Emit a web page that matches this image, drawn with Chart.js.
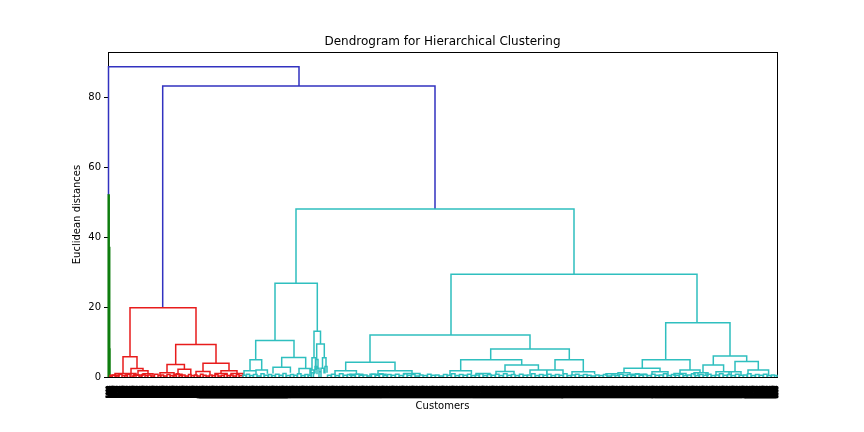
<!DOCTYPE html>
<html>
<head>
<meta charset="utf-8">
<title>Dendrogram for Hierarchical Clustering</title>
<script src="https://cdn.jsdelivr.net/npm/chart.js@4.4.1/dist/chart.umd.min.js"></script>
<style>
  html, body { margin: 0; padding: 0; background: #fff; }
  #wrap { width: 864px; height: 432px; }
</style>
</head>
<body>
<div id="wrap"><canvas id="chart" width="864" height="432"></canvas></div>
<script>
// each link: [left leg x, right leg x, left child height, right child height, merge height]
// x runs along the leaf order (108 = first leaf, 777 = last leaf)
const blueLinks = [
    [108.5, 299, 52, 83.2, 88.7],
    [162.7, 435, 19.8, 48, 83.2]
];

const greenLinks = [
    [108.2, 109.2, 0, 37, 52],
    [108.7, 109.7, 22, 8, 37],
    [108.4, 109.0, 0, 0, 22],
    [109.4, 110.0, 0, 0, 8]
];

const redLinks = [
    [130, 196, 5.8, 9.3, 19.8],
    [123, 137, 1.0, 2.4, 5.8],
    [131, 143, 1.0, 1.8, 2.4],
    [138, 148, 0.6, 0.9, 1.8],
    [175.7, 216, 3.6, 3.9, 9.3],
    [167, 184.4, 1.2, 2.2, 3.6],
    [203, 229, 1.6, 1.8, 3.9],
    [221, 237, 1.0, 1.0, 1.8],
    [115, 131, 0.5, 0.6, 1.0],
    [111, 119, 0, 0.3, 0.5],
    [126, 136, 0.3, 0.4, 1.0],
    [134, 142, 0, 0.3, 0.6],
    [143, 153, 0.3, 0.4, 0.9],
    [160, 174, 0.5, 0.6, 1.2],
    [178, 190.8, 0.8, 0.6, 2.2],
    [174, 182, 0, 0.3, 0.8],
    [196, 210, 0.5, 0.7, 1.6],
    [215, 227, 0.4, 0.5, 1.0],
    [231, 243, 0.4, 0.5, 1.0]
];

const cyanLinks = [
    [296, 574, 26.8, 29.4, 48],
    [275, 317.3, 10.4, 13.1, 26.8],
    [255.7, 294, 4.9, 5.6, 10.4],
    [250, 261.7, 1.8, 2.0, 4.9],
    [281.7, 305.7, 2.8, 2.4, 5.6],
    [314, 320.5, 5.5, 9.4, 13.1],
    [316.7, 324.3, 5.0, 5.5, 9.4],
    [312, 316, 2.0, 3.0, 5.5],
    [315.5, 318, 2.0, 2.5, 5.0],
    [322.5, 326, 2.5, 3.0, 5.5],
    [451, 697, 12, 15.5, 29.4],
    [370, 530, 4.2, 8.0, 12],
    [345.7, 395, 1.8, 1.8, 4.2],
    [490.7, 569.3, 4.9, 4.9, 8.0],
    [460.7, 521.7, 1.8, 3.4, 4.9],
    [505, 538.4, 1.6, 2.0, 3.4],
    [555, 583.3, 2.0, 1.5, 4.9],
    [665.7, 730, 4.9, 6.0, 15.5],
    [642.3, 690, 2.5, 2.0, 4.9],
    [624, 660, 1.2, 1.5, 2.5],
    [680, 700, 1.0, 1.2, 2.0],
    [713.3, 746.7, 3.4, 4.4, 6.0],
    [703, 723.6, 1.2, 1.5, 3.4],
    [735, 758.3, 1.5, 2.0, 4.4],
    [244, 256, 0.6, 0.8, 1.8],
    [256, 267.4, 0.6, 0.9, 2.0],
    [273, 290.4, 1.0, 1.2, 2.8],
    [299, 311, 0.8, 1.0, 2.4],
    [310, 314, 0.5, 0.8, 2.0],
    [315, 317, 1.0, 1.5, 3.0],
    [317, 319, 0.8, 1.0, 2.5],
    [321, 324, 0.8, 1.0, 2.5],
    [325, 327, 1.0, 1.2, 3.0],
    [319, 321, 0, 0, 1.5],
    [335, 356.4, 0.6, 0.8, 1.8],
    [378, 412, 0.8, 1.0, 1.8],
    [350, 362.8, 0.3, 0.4, 0.8],
    [370, 386, 0.4, 0.5, 0.8],
    [404, 420, 0.5, 0.6, 1.0],
    [450, 471.4, 0.6, 0.8, 1.8],
    [476, 490, 0.4, 0.5, 1.0],
    [496, 514, 0.6, 0.8, 1.6],
    [530, 546.8, 0.8, 0.6, 2.0],
    [547, 563, 0.7, 0.8, 2.0],
    [572, 594.6, 0.6, 0.8, 1.5],
    [606, 618, 0.3, 0.4, 0.9],
    [618, 630, 0.4, 0.5, 1.2],
    [632, 646, 0.3, 0.4, 0.8],
    [652, 668, 0.6, 0.5, 1.5],
    [674, 686, 0.3, 0.4, 1.0],
    [694, 706, 0.4, 0.3, 1.2],
    [698, 708, 0.4, 0.3, 1.2],
    [716, 731.2, 0.5, 0.6, 1.5],
    [729, 741, 0.5, 0.4, 1.5],
    [748, 768.6, 0.8, 0.6, 2.0]
];

// lowest merges straight above the leaves: [left leg x, right leg x, merge height]
const redTiny = [
    [110, 112, 0.4], [112.5, 115, 0.6], [116, 118.5, 0.3], [119, 122, 0.7], [122, 124.5, 0.4],
    [125, 127, 0.5], [127.5, 130, 0.8], [130.5, 133, 0.3], [133.5, 136, 0.6], [136, 139, 0.5],
    [139.5, 141.5, 0.3], [142, 145, 0.7], [145, 147.5, 0.4], [148, 151, 0.6], [151.5, 154, 0.3],
    [154.5, 158, 0.8], [158, 160.5, 0.4], [161, 163.5, 0.6], [164, 166.5, 0.3], [167, 170, 0.7],
    [170.5, 173, 0.4], [173.5, 176, 0.5], [176.5, 179, 0.9], [179.5, 182, 0.4], [182.5, 185, 0.6],
    [185.5, 188, 0.3], [188.5, 191, 0.7], [191.5, 194, 0.4], [194.5, 197, 0.6], [197.5, 200, 0.3],
    [200.5, 203, 0.8], [203.5, 206, 0.5], [206.5, 209, 0.3], [209.5, 212, 0.6], [212.5, 215, 0.4],
    [215.5, 218, 0.7], [218.5, 221, 0.3], [221.5, 224, 0.5], [224.5, 227, 0.8], [227.5, 230, 0.4],
    [230.5, 233, 0.6], [233.5, 236, 0.3], [236.5, 239, 0.7], [239.5, 242.5, 0.4]
];

const cyanTiny = [
    [243, 246, 0.5], [246.5, 249.5, 0.8], [250, 253, 0.4], [253.5, 257, 0.7], [257.5, 260.5, 0.3],
    [261, 264, 0.9], [264.5, 268, 0.5], [268.5, 271.5, 0.7], [272, 275, 0.4], [275.5, 279, 0.8],
    [279.5, 282.5, 0.5], [283, 286, 1.0], [286.5, 290, 0.4], [290.5, 293.5, 0.7], [294, 297, 0.5],
    [297.5, 301, 0.9], [301.5, 304.5, 0.4], [305, 308, 0.7], [308.5, 311, 0.5], [311.5, 313.5, 1.2],
    [327.5, 331, 0.5], [331.5, 335, 0.8], [335.5, 339, 0.4], [339.5, 343, 0.9], [343.5, 347, 0.5],
    [347.5, 351, 0.7], [351.5, 355, 0.4], [355.5, 359, 0.8], [359.5, 363, 0.5], [363.5, 367, 0.6],
    [367.5, 371, 0.3], [371.5, 375, 0.8], [375.5, 379, 0.5], [379.5, 383, 0.9], [383.5, 387, 0.4],
    [387.5, 391, 0.7], [391.5, 395, 0.5], [395.5, 399, 0.8], [399.5, 403, 0.4], [403.5, 407, 0.9],
    [407.5, 411, 0.5], [411.5, 415, 0.7], [415.5, 419, 0.3], [419.5, 423, 0.6], [423.5, 427, 0.4],
    [427.5, 431, 0.8], [431.5, 435, 0.5], [435.5, 439, 0.6], [439.5, 443, 0.3], [443.5, 447, 0.7],
    [447.5, 451, 0.5], [451.5, 455, 0.9], [455.5, 459, 0.4], [459.5, 463, 0.7], [463.5, 467, 0.5],
    [467.5, 471, 0.8], [471.5, 475, 0.4], [475.5, 479, 0.6], [479.5, 483, 0.9], [483.5, 487, 0.4],
    [487.5, 491, 0.7], [491.5, 495, 0.5], [495.5, 499, 0.8], [499.5, 503, 0.4], [503.5, 507, 0.9],
    [507.5, 511, 0.5], [511.5, 515, 0.7], [515.5, 519, 0.4], [519.5, 523, 0.8], [523.5, 527, 0.5],
    [527.5, 531, 0.6], [531.5, 535, 0.9], [535.5, 539, 0.4], [539.5, 543, 0.7], [543.5, 547, 0.5],
    [547.5, 551, 0.8], [551.5, 555, 0.4], [555.5, 559, 0.7], [559.5, 563, 0.5], [563.5, 567, 0.9],
    [567.5, 571, 0.4], [571.5, 575, 0.6], [575.5, 579, 0.8], [579.5, 583, 0.4], [583.5, 587, 0.7],
    [587.5, 591, 0.5], [591.5, 595, 0.3], [595.5, 599, 0.6], [599.5, 603, 0.4], [603.5, 607, 0.7],
    [607.5, 611, 0.3], [611.5, 615, 0.6], [615.5, 619, 0.4], [619.5, 623, 0.8], [623.5, 627, 0.5],
    [627.5, 631, 0.7], [631.5, 635, 0.4], [635.5, 639, 0.9], [639.5, 643, 0.5], [643.5, 647, 0.7],
    [647.5, 651, 0.4], [651.5, 655, 0.8], [655.5, 659, 0.5], [659.5, 663, 0.6], [663.5, 667, 0.9],
    [667.5, 671, 0.4], [671.5, 675, 0.7], [675.5, 679, 0.5], [679.5, 683, 0.8], [683.5, 687, 0.4],
    [687.5, 691, 0.6], [691.5, 695, 0.9], [695.5, 699, 0.4], [699.5, 703, 0.7], [703.5, 707, 0.5],
    [707.5, 711, 0.8], [711.5, 715, 0.4], [715.5, 719, 0.6], [719.5, 723, 0.9], [723.5, 727, 0.5],
    [727.5, 731, 0.7], [731.5, 735, 0.4], [735.5, 739, 0.8], [739.5, 743, 0.5], [743.5, 747, 0.6],
    [747.5, 751, 0.9], [751.5, 755, 0.4], [755.5, 759, 0.7], [759.5, 763, 0.5], [763.5, 767, 0.8],
    [767.5, 771, 0.4], [771.5, 774.5, 0.6], [774.5, 777, 0.4]
];

const yTicks = [0, 20, 40, 60, 80];
const leafStart = 108;
const leafEnd = 777;
const yTop = 92.9;

function linkPoints(links) {
    const pts = [];
    links.forEach(([xl, xr, yl, yr, h]) => {
        pts.push({x: xl, y: yl}, {x: xl, y: h}, {x: xr, y: h}, {x: xr, y: yr}, {x: xr, y: null});
    });
    return pts;
}

function tinyPoints(arches) {
    return linkPoints(arches.map(([xl, xr, h]) => [xl, xr, 0, 0, h]));
}

function linkSet(points, color) {
    return {
        data: points,
        borderColor: color,
        borderWidth: 1.5,
        showLine: true,
        spanGaps: false,
        pointRadius: 0,
        pointHoverRadius: 0,
        clip: false
    };
}

// black box around the plot like matplotlib spines
const frame = {
    id: 'frame',
    beforeDatasetsDraw(chart) {
        const {ctx, chartArea: a} = chart;
        ctx.save();
        ctx.strokeStyle = '#000';
        ctx.lineWidth = 1;
        ctx.strokeRect(a.left + 0.5, a.top + 0.5, a.right - a.left, a.bottom - a.top);
        ctx.restore();
    }
};

Chart.defaults.font.family = '"DejaVu Sans", sans-serif';
Chart.defaults.color = '#000';

new Chart(document.getElementById('chart'), {
    type: 'scatter',
    data: {
        datasets: [
            linkSet(tinyPoints(cyanTiny), '#2fbfbf'),
            linkSet(linkPoints(cyanLinks), '#2fbfbf'),
            linkSet(tinyPoints(redTiny), '#e81c1c'),
            linkSet(linkPoints(redLinks), '#e81c1c'),
            linkSet(linkPoints(greenLinks), '#0e7d0e'),
            linkSet(linkPoints(blueLinks), '#3232c0')
        ]
    },
    plugins: [frame],
    options: {
        responsive: false,
        animation: false,
        layout: { padding: { left: 0, right: 87, top: 0, bottom: 0 } },
        plugins: {
            legend: { display: false },
            tooltip: { enabled: false },
            title: {
                display: true,
                text: 'Dendrogram for Hierarchical Clustering',
                fullSize: false,
                font: { size: 12, weight: 'normal' },
                padding: { top: 35, bottom: 2.6 }
            }
        },
        scales: {
            x: {
                type: 'linear',
                min: leafStart,
                max: leafEnd,
                grid: { display: false, drawTicks: false },
                border: { display: false },
                ticks: {
                    stepSize: 1,
                    autoSkip: false,
                    minRotation: 90,
                    maxRotation: 90,
                    padding: 9,
                    font: { size: 4.3, weight: 'bold' },
                    textStrokeColor: '#000',
                    textStrokeWidth: 1,
                    callback: (v, i) => String(1000 + i * 11)
                },
                title: {
                    display: true,
                    text: 'Customers',
                    font: { size: 10 },
                    padding: { top: 0, bottom: 20 }
                },
                afterFit(scale) { scale.height = 55; }
            },
            y: {
                min: 0,
                max: yTop,
                grid: { display: true, drawOnChartArea: false, drawTicks: true, tickLength: 4, color: '#000' },
                border: { display: false },
                afterBuildTicks(scale) { scale.ticks = yTicks.map(v => ({value: v})); },
                ticks: { padding: 3, font: { size: 10 } },
                title: {
                    display: true,
                    text: 'Euclidean distances',
                    font: { size: 10 },
                    padding: { top: 71, bottom: 0 }
                },
                afterFit(scale) { scale.width = 108; }
            }
        }
    }
});
</script>
</body>
</html>
